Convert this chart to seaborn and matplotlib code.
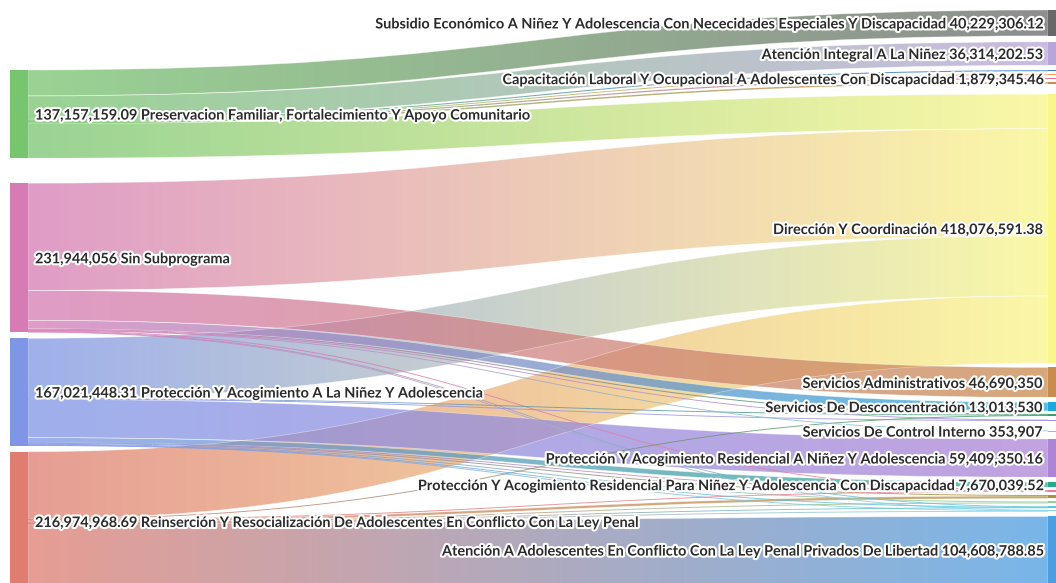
import numpy as np
import pandas as pd
import seaborn as sns
import matplotlib.pyplot as plt
import matplotlib.patheffects as pe
from matplotlib.path import Path
from matplotlib.patches import PathPatch, Rectangle
from matplotlib.collections import LineCollection

# Subprogramas (left column)
left_names = [
    "Preservacion Familiar, Fortalecimiento Y Apoyo Comunitario",
    "Sin Subprograma",
    "Protección Y Acogimiento A La Niñez Y Adolescencia",
    "Reinserción Y Resocialización De Adolescentes En Conflicto Con La Ley Penal",
]
left_values = [137157159.09, 231944056.0, 167021448.31, 216974968.69]
left_colors = ["#78c570", "#d67bb4", "#7f96e6", "#df7d70"]

# Actividades (right column), empty names = small unlabeled nodes
right_names = [
    "Subsidio Económico A Niñez Y Adolescencia Con Nececidades Especiales Y Discapacidad",
    "Atención Integral A La Niñez",
    "",
    "",
    "Capacitación Laboral Y Ocupacional A Adolescentes Con Discapacidad",
    "",
    "Dirección Y Coordinación",
    "Servicios Administrativos",
    "Servicios De Desconcentración",
    "",
    "",
    "Servicios De Control Interno",
    "Protección Y Acogimiento Residencial A Niñez Y Adolescencia",
    "Protección Y Acogimiento Residencial Para Niñez Y Adolescencia Con Discapacidad",
    "",
    "",
    "",
    "",
    "",
    "Atención A Adolescentes En Conflicto Con La Ley Penal Privados De Libertad",
]
right_values = [40229306.12, 36314202.53, 1600000.0, 1200000.0, 1879345.46, 2200000.0,
                418076591.38, 46690350.0, 13013530.0, 3000000.0, 1500000.0, 353907.0,
                59409350.16, 7670039.52, 2200000.0, 5400000.0, 3000000.0, 2400000.0,
                2350000.0, 104608788.85]
right_colors = ["#686868", "#b8a5d9", "#3a78c8", "#f0a050", "#e06aa0", "#d08a50",
                "#faf68a", "#c98b4e", "#1ba8dd", "#3c9e6c", "#a090e0", "#6fd0e0",
                "#ad84d6", "#28a98a", "#e87f9a", "#b0923c", "#98cf98", "#56c9e0",
                "#7fd6e8", "#4c9ee3"]

# flows: source (left index) -> target (right index)
flow_src = [0, 0, 0, 0, 0, 0, 0,
            1, 1, 1, 1, 1, 1, 1, 1, 1,
            2, 2, 2, 2, 2, 2, 2, 2, 2, 2,
            3, 3, 3, 3, 3, 3, 3, 3]
flow_tgt = [0, 1, 2, 3, 4, 5, 6,
            6, 7, 8, 9, 10, 11, 14, 17, 18,
            6, 9, 10, 12, 13, 14, 15, 16, 17, 18,
            6, 9, 14, 15, 16, 17, 18, 19]
flow_val = [40229306.12, 36314202.53, 1600000.0, 1200000.0, 1879345.46, 2200000.0, 53734305.0,
            166586269.0, 46690350.0, 13013530.0, 1500000.0, 800000.0, 353907.0, 1000000.0, 1200000.0, 800000.0,
            93442058.63, 800000.0, 700000.0, 59409350.16, 7670039.52, 600000.0, 1500000.0, 1500000.0, 600000.0, 800000.0,
            104313958.77, 700000.0, 600000.0, 3902221.07, 1500000.0, 600000.0, 750000.0, 104608788.85]

# layout (pixels)
W, H = 1056, 583
scale = 0.643e-6
left_gaps = [70, 25, 6, 6]
right_gaps = [10, 6, 5, 3, 3, 3, 10.5, 4.5, 5, 3, 4, 10, 8, 5, 3, 3.5, 3, 3, 2, 5]
xl0, xl1 = 10, 28
xr0, xr1 = 1048, 1066
text_dy = 1.5


def stack(values, gaps):
    tops, y = [], 0
    for v, g in zip(values, gaps):
        y += g
        tops.append(y)
        y += v * scale
    return tops


def fmt(v):
    return f"{v:,.0f}" if float(v).is_integer() else f"{v:,.2f}"


sns.set_theme(style="white")
plt.rcParams["font.family"] = ["Lato", "DejaVu Sans"]

left_top = stack(left_values, left_gaps)
right_top = stack(right_values, right_gaps)

flows = pd.DataFrame({"src": flow_src, "tgt": flow_tgt, "val": flow_val})
flows["h"] = flows["val"] * scale

# stacking order: out-links sorted by target, in-links sorted by source
flows = flows.sort_values(["src", "tgt"])
flows["y0"] = flows.groupby("src")["h"].cumsum() - flows["h"] + flows["src"].map(lambda i: left_top[i])
flows = flows.sort_values(["tgt", "src"])
flows["y1"] = flows.groupby("tgt")["h"].cumsum() - flows["h"] + flows["tgt"].map(lambda i: right_top[i])

fig = plt.figure(figsize=(10.56, 5.83), dpi=100)
ax = fig.add_axes([0, 0, 1, 1])

xm = (xl1 + xr0) / 2
alpha = 0.75


def bezier(ya, yb, n=80):
    t = np.linspace(0, 1, n)
    x = (1 - t) ** 3 * xl1 + 3 * (1 - t) ** 2 * t * xm + 3 * (1 - t) * t ** 2 * xm + t ** 3 * xr0
    y = (1 - t) ** 3 * ya + 3 * (1 - t) ** 2 * t * ya + 3 * (1 - t) * t ** 2 * yb + t ** 3 * yb
    return x, y


for _, f in flows.sort_values("val", ascending=False).iterrows():
    c0 = left_colors[int(f.src)]
    c1 = right_colors[int(f.tgt)]
    grad = np.array(sns.blend_palette([c0, c1], 256))
    if f.h >= 1.6:
        s0, s1 = f.y0, f.y0 + f.h
        t0, t1 = f.y1, f.y1 + f.h
        verts = [(xl1, s0), (xm, s0), (xm, t0), (xr0, t0),
                 (xr0, t1), (xm, t1), (xm, s1), (xl1, s1), (xl1, s0)]
        codes = [Path.MOVETO, Path.CURVE4, Path.CURVE4, Path.CURVE4,
                 Path.LINETO, Path.CURVE4, Path.CURVE4, Path.CURVE4, Path.CLOSEPOLY]
        patch = PathPatch(Path(verts, codes), facecolor="none",
                          edgecolor=(1, 1, 1, 0.45), lw=0.5, zorder=2)
        ax.add_patch(patch)
        img = np.concatenate([grad, np.full((256, 1), alpha)], axis=1)[None, :, :]
        im = ax.imshow(img, extent=(xl1, xr0, max(s1, t1), min(s0, t0)),
                       aspect="auto", interpolation="bilinear", zorder=1)
        im.set_clip_path(patch)
    else:
        x, y = bezier(f.y0 + f.h / 2, f.y1 + f.h / 2)
        pts = np.column_stack([x, y]).reshape(-1, 1, 2)
        segs = np.concatenate([pts[:-1], pts[1:]], axis=1)
        cols = np.array(sns.blend_palette([c0, c1], len(segs)))
        lc = LineCollection(segs, colors=[(*c, 0.85) for c in cols],
                            linewidths=max(f.h, 0.9) * 0.72, zorder=3)
        ax.add_collection(lc)

halo = [pe.withStroke(linewidth=3, foreground="white")]
txt = dict(fontsize=10.4, fontweight="bold", color="#2b2b2b", va="center",
           path_effects=halo, zorder=6)

for name, v, top, c in zip(left_names, left_values, left_top, left_colors):
    h = v * scale
    ax.add_patch(Rectangle((xl0, top), xl1 - xl0, h, color=c, lw=0, zorder=4))
    ax.text(xl1 + 7, top + h / 2 + text_dy, f"{fmt(v)} {name}", ha="left", **txt)

for name, v, top, c in zip(right_names, right_values, right_top, right_colors):
    h = max(v * scale, 0.8)
    ax.add_patch(Rectangle((xr0, top), xr1 - xr0, h, color=c, lw=0, zorder=4))
    if name:
        ax.text(xr0 - 6, top + h / 2 + text_dy, f"{name} {fmt(v)}", ha="right", **txt)

ax.set_xlim(0, W)
ax.set_ylim(H, 0)
ax.axis("off")

fig.savefig("out.png", dpi=100)
